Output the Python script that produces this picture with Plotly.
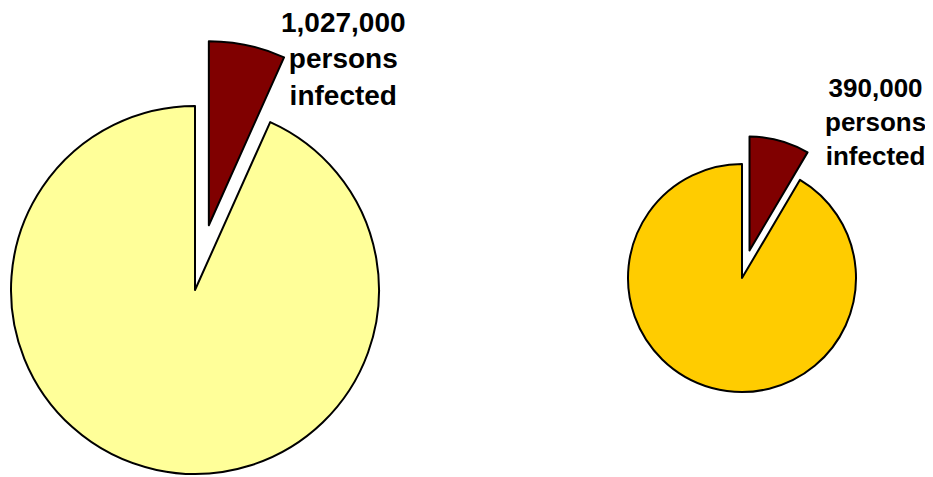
import math
import plotly.graph_objects as go

W, H = 933, 477
OFF = 8  # page body margin offset in pixels

# Data
slice_names = ["Infected", "Not infected"]
left_values = [1027000, 14300000]
right_values = [390000, 4200000]
left_label = "1,027,000<br>persons<br>infected"
right_label = "390,000<br>persons<br>infected"

infected_color = "#800000"
left_color = "#FFFF99"
right_color = "#FFCC00"

# layout (screen pixels): center x, center y, radius, pull fraction
pies = [
    dict(values=left_values, cx=195, cy=290, r=184, pull=0.36, color=left_color,
         label=left_label, lx=343, ly=59, fs=28),
    dict(values=right_values, cx=742, cy=278, r=114, pull=0.25, color=right_color,
         label=right_label, lx=875, ly=122, fs=26),
]


def dom(cx, cy, r):
    cx -= OFF
    cy -= OFF
    return dict(x=[(cx - r) / W, (cx + r) / W],
                y=[1 - (cy + r) / H, 1 - (cy - r) / H])


fig = go.Figure()
annotations = []
for p in pies:
    vals = p["values"]
    frac = vals[0] / sum(vals)
    half = math.radians(frac * 360 / 2)
    off = p["pull"] * p["r"]
    dx = off * math.sin(half)
    dy = off * math.cos(half)

    # base pie (gap where infected slice was)
    fig.add_trace(go.Pie(
        labels=slice_names, values=vals, sort=False, direction="clockwise",
        rotation=0, textinfo="none", hoverinfo="label+value",
        marker=dict(colors=["rgba(0,0,0,0)", p["color"]],
                    line=dict(color=["rgba(0,0,0,0)", "black"], width=[0, 2])),
        domain=dom(p["cx"], p["cy"], p["r"]), showlegend=False,
    ))
    # pulled infected slice
    fig.add_trace(go.Pie(
        labels=slice_names, values=vals, sort=False, direction="clockwise",
        rotation=0, textinfo="none", hoverinfo="label+value",
        marker=dict(colors=[infected_color, "rgba(0,0,0,0)"],
                    line=dict(color=["black", "rgba(0,0,0,0)"], width=[2, 0])),
        domain=dom(p["cx"] + dx, p["cy"] - dy, p["r"]), showlegend=False,
    ))
    annotations.append(dict(
        text="<b>" + p["label"] + "</b>",
        x=(p["lx"] - OFF) / W, y=1 - (p["ly"] - OFF) / H,
        xref="paper", yref="paper", xanchor="center", yanchor="middle",
        showarrow=False, align="center",
        font=dict(family="Arial, Liberation Sans, sans-serif", size=p["fs"], color="black"),
    ))

fig.update_layout(
    width=W, height=H, margin=dict(l=0, r=0, t=0, b=0),
    paper_bgcolor="white", plot_bgcolor="white",
    annotations=annotations,
)
fig.write_html("out.html")
